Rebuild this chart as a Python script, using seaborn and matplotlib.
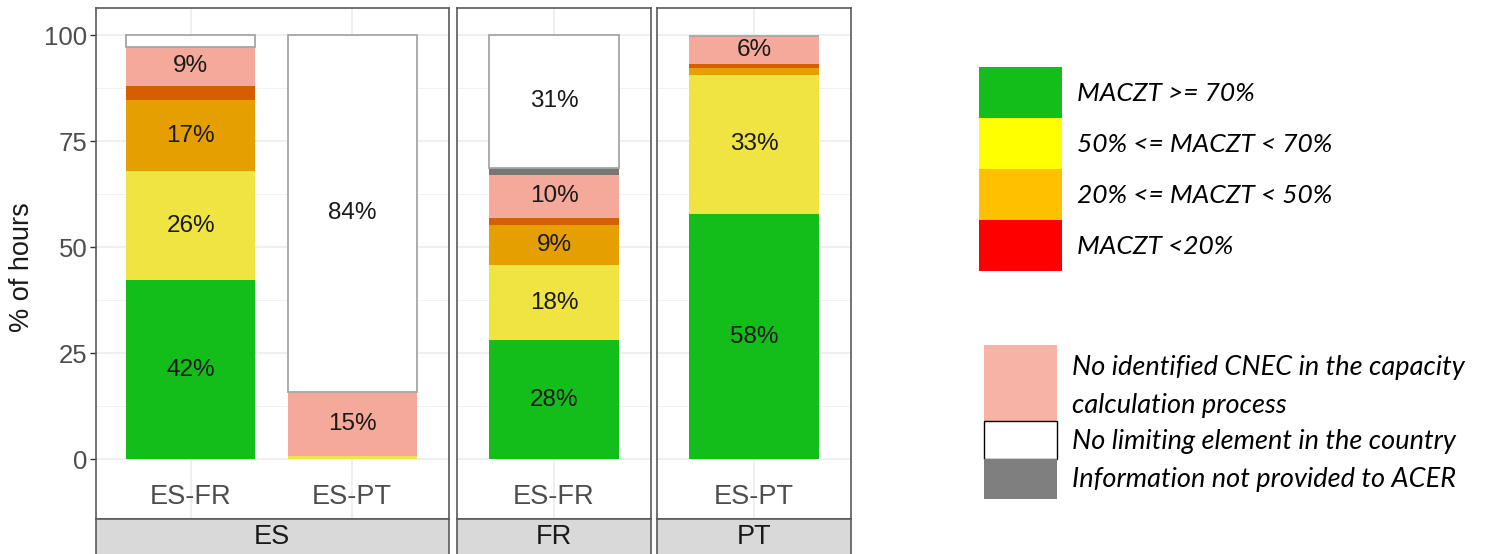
import numpy as np
import pandas as pd
import matplotlib.pyplot as plt
import seaborn as sns
from matplotlib.patches import Rectangle

sns.set_theme(style="white")
plt.rcParams["font.family"] = ["Liberation Sans", "DejaVu Sans"]

# Данные (% часов)
panels = ["ES", "ES", "FR", "PT"]
borders = ["ES-FR", "ES-PT", "ES-FR", "ES-PT"]
green = [42.2, 0.0, 28.0, 57.8]
yellow = [25.7, 0.8, 17.8, 32.9]
orange = [16.8, 0.0, 9.4, 1.6]
red = [3.3, 0.0, 1.6, 1.0]
pink = [9.2, 15.1, 10.3, 6.4]
grey = [0.0, 0.0, 1.6, 0.0]
white = [2.8, 84.1, 31.3, 0.0]

segments = ["green", "yellow", "orange", "red", "pink", "grey", "white"]
bar_colors = ["#14BE1A", "#F0E442", "#E69F00", "#D55E00", "#F4A99A", "#777777", "#FFFFFF"]

legend_top = ["MACZT >= 70%", "50% <= MACZT < 70%", "20% <= MACZT < 50%", "MACZT <20%"]
legend_top_colors = ["#13BE1A", "#FFFF00", "#FFC000", "#FF0000"]
legend_bottom_colors = ["#F7B3A6", "#FFFFFF", "#7F7F7F"]

df = pd.DataFrame({
    "panel": panels,
    "border": borders,
    "green": green,
    "yellow": yellow,
    "orange": orange,
    "red": red,
    "pink": pink,
    "grey": grey,
    "white": white,
})

W, H = 1485, 554
fig = plt.figure(figsize=(W / 100, H / 100), dpi=100)


def fx(px):
    return px / W


def fy(py):
    # пиксели сверху -> доля снизу
    return 1 - py / H


panel_px = {"ES": (95.7, 449), "FR": (457, 651), "PT": (657, 851)}
top_px, bottom_px = 8, 519
ymin, ymax = -14.15, 106.4

for p in ["ES", "FR", "PT"]:
    x0, x1 = panel_px[p]
    ax = fig.add_axes([fx(x0), fy(bottom_px), fx(x1 - x0), fy(top_px) - fy(bottom_px)])
    sub = df[df["panel"] == p].reset_index(drop=True)
    order = list(sub["border"])
    bottom = np.zeros(len(sub))
    for seg, color in zip(segments, bar_colors):
        vals = sub[seg].to_numpy()
        is_white = seg == "white"
        sns.barplot(
            x=sub["border"], y=vals, order=order, bottom=bottom,
            color=color, saturation=1, width=0.8, errorbar=None,
            edgecolor="#A6A6A6" if is_white else "none",
            linewidth=1.3 if is_white else 0, zorder=3, ax=ax
        )
        for i, v in enumerate(vals):
            if v >= 5:
                ax.text(i, bottom[i] + v / 2, f"{v:.0f}%", ha="center", va="center",
                        fontsize=17.5, color="#1A1A1A", zorder=4)
        bottom += vals

    n = len(sub)
    if n == 1:
        ax.set_xlim(-0.6, 0.6)
    else:
        ax.set_xlim(-0.59, 1.6)
    ax.set_ylim(ymin, ymax)
    ax.set_xticks(range(n))
    ax.set_xticklabels([])
    ax.tick_params(axis="x", length=0)
    ax.set_xlabel("")
    ax.set_ylabel("")
    for i, b in enumerate(order):
        ax.text(i, -9, b, ha="center", va="center", fontsize=19.5, color="#4D4D4D")

    ax.set_yticks([0, 25, 50, 75, 100])
    ax.set_yticks([12.5, 37.5, 62.5, 87.5], minor=True)
    ax.grid(True, which="major", color="#EBEBEB", linewidth=1.1, zorder=0)
    ax.grid(True, which="minor", axis="y", color="#F2F2F2", linewidth=0.7, zorder=0)
    ax.set_axisbelow(True)
    if p == "ES":
        ax.tick_params(axis="y", which="major", left=True, length=4, width=1,
                       color="#333333", labelsize=18.5, labelcolor="#4D4D4D", pad=2)
        ax.tick_params(axis="y", which="minor", left=False)
    else:
        ax.set_yticklabels([])
        ax.tick_params(axis="y", which="both", left=False, length=0)
    for s in ax.spines.values():
        s.set_color("#5A5A5A")
        s.set_linewidth(1.2)

    # полоса с названием страны снизу
    strip = Rectangle((fx(x0), fy(H + 5)), fx(x1 - x0), fy(bottom_px) - fy(H + 5),
                      transform=fig.transFigure, facecolor="#D9D9D9",
                      edgecolor="#5A5A5A", linewidth=1.2, clip_on=False)
    fig.add_artist(strip)
    fig.text(fx((x0 + x1) / 2), fy(537), p, ha="center", va="center",
             fontsize=19.5, color="#1A1A1A")

fig.text(fx(22.5), fy(267), "% of hours", rotation=90, ha="center", va="center",
         fontsize=19.5, color="#1A1A1A")

# Легенда справа
leg_font = ["Lato", "DejaVu Sans"]
row_h = 51
for i, (lab, col) in enumerate(zip(legend_top, legend_top_colors)):
    y0 = 67 + i * row_h
    fig.add_artist(Rectangle((fx(979), fy(y0 + row_h)), fx(83), fy(y0) - fy(y0 + row_h),
                             transform=fig.transFigure, facecolor=col, edgecolor="none"))
    fig.text(fx(1077), fy(y0 + row_h / 2 + 1), lab, ha="left", va="center",
             fontsize=19, style="italic", family=leg_font, color="#000000")

box_rows = [(345, 420.7), (420.7, 459.3), (459.3, 499.3)]
for (y0, y1), col in zip(box_rows, legend_bottom_colors):
    fig.add_artist(Rectangle((fx(984), fy(y1)), fx(73), fy(y0) - fy(y1),
                             transform=fig.transFigure, facecolor=col,
                             edgecolor="#000000" if col == "#FFFFFF" else "none",
                             linewidth=1.0))

legend_bottom = [
    ("No identified CNEC in the capacity", 367),
    ("calculation process", 405),
    ("No limiting element in the country", 441),
    ("Information not provided to ACER", 479),
]
for lab, yy in legend_bottom:
    fig.text(fx(1072), fy(yy), lab, ha="left", va="center", fontsize=19.5,
             style="italic", family=leg_font, color="#000000")

fig.savefig("out.png", dpi=100)
